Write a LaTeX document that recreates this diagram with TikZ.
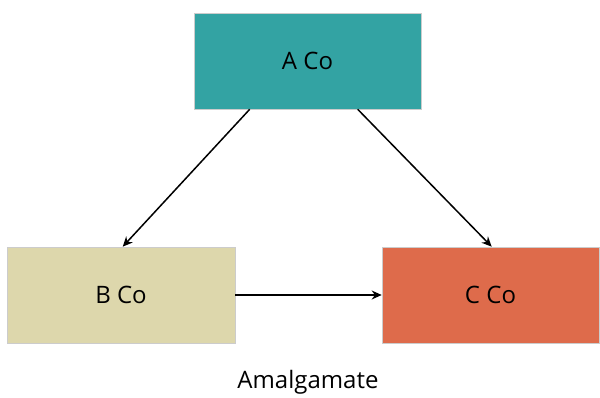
\documentclass[tikz,border=0pt]{standalone}
\usepackage{fontspec}
\setmainfont{Open Sans}
\usetikzlibrary{arrows.meta,calc}
\definecolor{tealA}{HTML}{33A3A3}
\definecolor{sandB}{HTML}{DDD7AC}
\definecolor{coralC}{HTML}{DE6B4B}
\begin{document}
\begin{tikzpicture}[x=1pt,y=1pt,
  box/.style={draw=black!20,line width=0.6pt,minimum height=96pt,inner sep=0pt,font=\fontsize{24}{29}\selectfont},
  conn/.style={line width=1.5pt,-{Stealth[length=10pt,width=9pt]}}]
\useasboundingbox (0,0) rectangle (600,397);
\node[box,fill=tealA,minimum width=227pt] (A) at (307.5,336) {A Co};
\node[box,fill=sandB,minimum width=228pt] (B) at (121,102) {B Co};
\node[box,fill=coralC,minimum width=217pt] (C) at (490.5,102) {C Co};
\node[font=\fontsize{24}{29}\selectfont] (L) at (308,15) {Amalgamate};
\draw[conn] ($(A.south west)+(56,0)$) -- ($(B.north west)+(116,0)$);
\draw[conn] ($(A.south west)+(164,0)$) -- ($(C.north west)+(110,0)$);
\draw[conn] (B.east) -- (C.west);
\end{tikzpicture}
\end{document}
